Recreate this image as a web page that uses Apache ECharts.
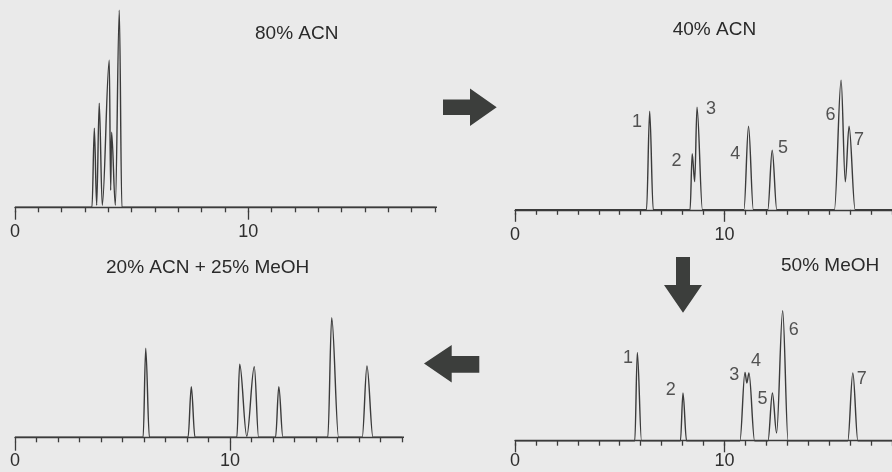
<!DOCTYPE html>
<html><head><meta charset="utf-8">
<script src="https://cdn.jsdelivr.net/npm/echarts@6/dist/echarts.min.js"></script>
<style>html,body{margin:0;padding:0;background:#eaeaea}#c{width:892px;height:472px}</style>
</head><body><div id="c"></div>
<script>
// ---- data (retention time in min, detector response in arbitrary units) ----
const panelTitles = ['80% ACN', '40% ACN', '20% ACN + 25% MeOH', '50% MeOH'];
const tickLabels = [0, 10];
const peakNumbers = ['1', '2', '3', '4', '5', '6', '7'];

const timeACN80 = [0, 3.30, 3.40, 3.50, 3.61, 3.74, 4.04, 4.10, 4.14, 4.30, 4.47, 4.58, 18.5];
const signalACN80 = [0, 0, 79, 2, 104, 2, 147, 17, 75, 2, 197, 0, 0];

const timeACN40 = [0, 6.28, 6.43, 6.60, 8.36, 8.46, 8.58, 8.69, 8.95, 10.93, 11.15, 11.38, 12.07, 12.28, 12.50, 15.25, 15.57, 15.77, 15.95, 16.24, 18.5];
const signalACN40 = [0, 0, 98.5, 0, 0, 56, 28, 102.5, 0, 0, 83.5, 0, 0, 59.5, 0, 0, 129.5, 28, 83.5, 0, 0];
const apexIndexACN40 = [2, 5, 7, 10, 13, 16, 18];

const timeTernary = [0, 5.96, 6.08, 6.25, 8.05, 8.20, 8.37, 10.32, 10.45, 10.78, 11.13, 11.33, 12.12, 12.27, 12.46, 14.55, 14.73, 15.05, 16.15, 16.37, 16.65, 18.2];
const signalTernary = [0, 0, 89, 0, 0, 50.6, 0, 0, 73, 1, 70.6, 0, 0, 50.6, 0, 0, 119.6, 0, 0, 71.3, 0, 0];

const timeMeOH50 = [0, 5.72, 5.84, 6.04, 7.90, 8.02, 8.19, 10.74, 10.98, 11.07, 11.17, 11.44, 12.08, 12.29, 12.49, 12.78, 13.04, 15.89, 16.13, 16.37, 18.5];
const signalMeOH50 = [0, 0, 88.3, 0, 0, 47.7, 0, 0, 68.3, 57.7, 67.7, 0, 0, 47.7, 7.7, 130, 0, 0, 67.7, 0, 0];
const apexIndexMeOH50 = [2, 5, 8, 10, 13, 15, 18];

// ---- layout / style ----
const ink = '#3b3b3b';
const fontFam = '"Liberation Sans", Arial, Helvetica, sans-serif';
const panels = [
  { t: timeACN80, s: signalACN80, apex: null, grid: { left: 15, top: 10, width: 420, height: 200.7 }, ymin: -3.4, ymax: 197.3, xmax: 18, margin: 12 },
  { t: timeACN40, s: signalACN40, apex: apexIndexACN40, grid: { left: 515, top: 60, width: 390.6, height: 152.8 }, ymin: -3, ymax: 149.8, xmax: 18, margin: 13,
    offsets: [[-12.6, 10.7], [-15.6, 7.4], [14, 2], [-13.4, 28], [10.7, -2.3], [-10.6, 35], [10, 13.3]] },
  { t: timeTernary, s: signalTernary, apex: null, grid: { left: 15, top: 300, width: 387, height: 141.7 }, ymin: -4.4, ymax: 137.3, xmax: 18, margin: 10 },
  { t: timeMeOH50, s: signalMeOH50, apex: apexIndexMeOH50, grid: { left: 515, top: 300, width: 390.6, height: 143.3 }, ymin: -2.6, ymax: 140.7, xmax: 18, margin: 9,
    offsets: [[-9.4, 5.6], [-12.3, -2.6], [-10.6, 2.3], [7, -11.6], [-10, 6], [11, 19], [9, 6]] }
];
const titlePos = [[255, 33.3], [672.7, 30], [106, 267.3], [781, 266]];

const grids = [], xAxes = [], yAxes = [], series = [];
panels.forEach((p, k) => {
  grids.push(Object.assign({ containLabel: false }, p.grid));
  xAxes.push({
    gridIndex: k, type: 'value', position: 'bottom', min: 0, max: p.xmax, interval: 1,
    axisLine: { show: true, lineStyle: { color: ink, width: 1.4 } },
    axisTick: { show: true, length: 5, lineStyle: { color: ink, width: 1.3 } },
    axisLabel: { show: false }, splitLine: { show: false }
  });
  xAxes.push({
    gridIndex: k, type: 'value', position: 'bottom', min: 0, max: p.xmax, interval: 10,
    axisLine: { show: false },
    axisTick: { show: true, length: 9, customValues: tickLabels, lineStyle: { color: ink, width: 1.3 } },
    axisLabel: { show: true, customValues: tickLabels, margin: p.margin, fontSize: 18, color: '#2e2e2e', fontFamily: fontFam },
    splitLine: { show: false }
  });
  yAxes.push({ gridIndex: k, type: 'value', min: p.ymin, max: p.ymax, show: false, splitLine: { show: false } });
  series.push({
    type: 'line', xAxisIndex: 2 * k, yAxisIndex: k,
    data: p.t.map((t, i) => [t, p.s[i]]),
    showSymbol: false, smooth: 0.35, smoothMonotone: 'x', clip: false, silent: true,
    lineStyle: { color: ink, width: 1.4 }
  });
  if (p.apex) {
    series.push({
      type: 'scatter', xAxisIndex: 2 * k, yAxisIndex: k, symbolSize: 0, silent: true, clip: false,
      data: p.apex.map((idx, j) => ({
        value: [p.t[idx], p.s[idx]],
        label: { show: true, formatter: peakNumbers[j], position: 'inside', offset: p.offsets[j],
                 fontSize: 18, color: '#2a2a2a', fontFamily: fontFam }
      }))
    });
  }
});

const graphic = panelTitles.map((txt, k) => ({
  type: 'text', x: titlePos[k][0], y: titlePos[k][1], silent: true,
  style: { text: txt, font: '19px ' + fontFam, fill: '#2a2a2a', textAlign: 'left', textVerticalAlign: 'middle' }
}));
const arrowFill = '#3c3e3c';
graphic.push(
  { type: 'polygon', silent: true, shape: { points: [[443, 99.6], [470, 99.6], [470, 88.6], [496.7, 107.3], [470, 126], [470, 115], [443, 115]] }, style: { fill: arrowFill } },
  { type: 'polygon', silent: true, shape: { points: [[479.3, 356], [451.7, 356], [451.7, 345], [424, 363.5], [451.7, 382.5], [451.7, 372.7], [479.3, 372.7]] }, style: { fill: arrowFill } },
  { type: 'polygon', silent: true, shape: { points: [[676, 257], [690, 257], [690, 285], [702, 285], [683, 312.7], [664, 285], [676, 285]] }, style: { fill: arrowFill } }
);

const chart = echarts.init(document.getElementById('c'), null, { renderer: 'canvas' });
chart.setOption({
  animation: false,
  backgroundColor: '#eaeaea',
  grid: grids, xAxis: xAxes, yAxis: yAxes, series: series, graphic: graphic
});
</script></body></html>
